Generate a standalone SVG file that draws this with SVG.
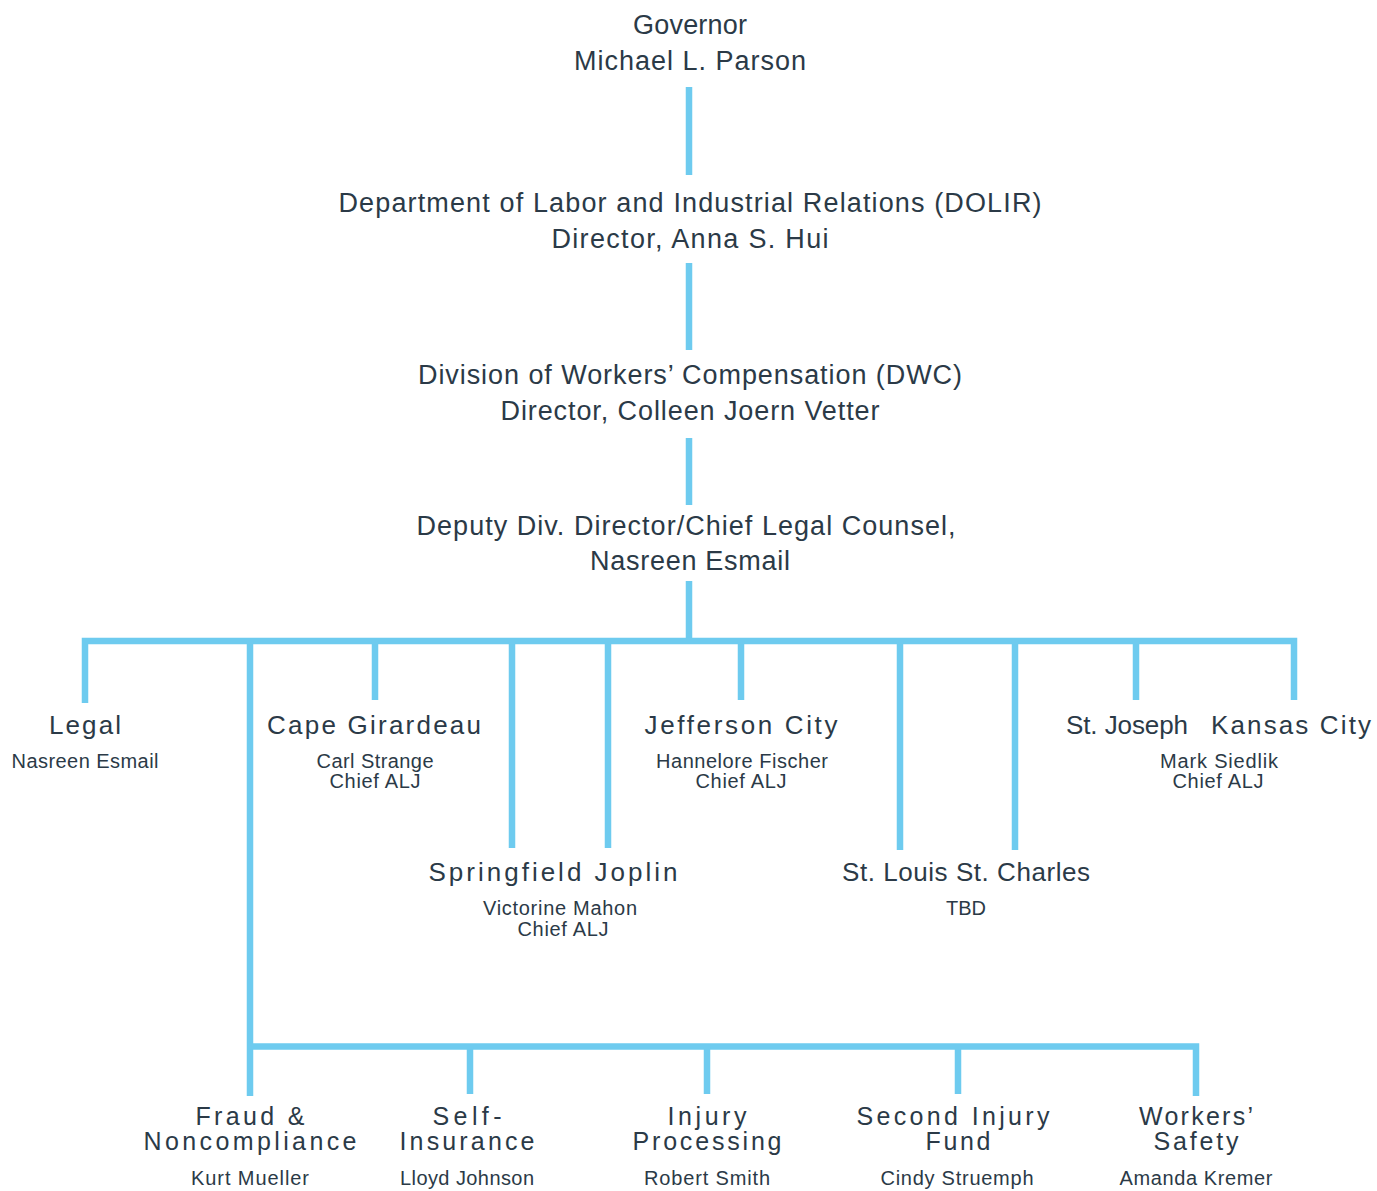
<svg xmlns="http://www.w3.org/2000/svg" width="1377" height="1191" viewBox="0 0 1377 1191">
<style>
.ln{stroke:#6ECBEF;stroke-width:6.5;fill:none;stroke-linecap:butt}
text{font-family:"Liberation Sans",Arial,sans-serif;fill:#2B3A47;text-anchor:middle}
.h{font-size:27px}
.l{font-size:26px}
.b{font-size:25px}
.s{font-size:20px}
</style>
<rect width="1377" height="1191" fill="#fff"/>
<g id="connectors">
<path class="ln" d="M689 87V175M689 263V350M689 438V505M689 581V641"/>
<path class="ln" d="M85 703V641H1294V700"/>
<path class="ln" d="M250 641V1096"/>
<path class="ln" d="M375 641V700M512 641V848M608 641V848M741 641V700M900 641V850M1015 641V850M1136 641V700"/>
<path class="ln" d="M250 1046.5H1196V1096"/>
<path class="ln" d="M470 1046.5V1094M707 1046.5V1094M958 1046.5V1094"/>
</g>
<g id="governor"><text class="h" x="690" y="34" textLength="114">Governor</text><text class="h" x="690" y="70" textLength="232">Michael L. Parson</text></g>
<g id="dolir"><text class="h" x="690" y="212" textLength="703">Department of Labor and Industrial Relations (DOLIR)</text><text class="h" x="690" y="248" textLength="277">Director, Anna S. Hui</text></g>
<g id="dwc"><text class="h" x="690" y="384" textLength="544">Division of Workers’ Compensation (DWC)</text><text class="h" x="690" y="420" textLength="379">Director, Colleen Joern Vetter</text></g>
<g id="deputy"><text class="h" x="686" y="535" textLength="539">Deputy Div. Director/Chief Legal Counsel,</text><text class="h" x="690" y="570" textLength="200">Nasreen Esmail</text></g>
<g id="legal"><text class="l" x="85" y="734" textLength="72">Legal</text><text class="s" x="85" y="768" textLength="147">Nasreen Esmail</text></g>
<g id="cape"><text class="l" x="374" y="734" textLength="214">Cape Girardeau</text><text class="s" x="375" y="768" textLength="117">Carl Strange</text><text class="s" x="375" y="788" textLength="91">Chief ALJ</text></g>
<g id="jefferson"><text class="l" x="741" y="734" textLength="193">Jefferson City</text><text class="s" x="742" y="768" textLength="172">Hannelore Fischer</text><text class="s" x="741" y="788" textLength="91">Chief ALJ</text></g>
<g id="kc"><text class="l" x="1127" y="734" textLength="122">St. Joseph</text><text class="l" x="1291" y="734" textLength="160">Kansas City</text><text class="s" x="1219" y="768" textLength="118">Mark Siedlik</text><text class="s" x="1218" y="788" textLength="91">Chief ALJ</text></g>
<g id="springfield"><text class="l" x="553" y="881" textLength="249">Springfield Joplin</text><text class="s" x="560" y="915" textLength="154">Victorine Mahon</text><text class="s" x="563" y="936" textLength="91">Chief ALJ</text></g>
<g id="stlouis"><text class="l" x="966" y="881" textLength="248">St. Louis St. Charles</text><text class="s" x="966" y="915" textLength="40">TBD</text></g>
<g id="fraud"><text class="b" x="250" y="1125" textLength="109">Fraud &amp;</text><text class="b" x="250" y="1150" textLength="213">Noncompliance</text><text class="s" x="250" y="1185" textLength="118">Kurt Mueller</text></g>
<g id="self"><text class="b" x="467" y="1125" textLength="69">Self-</text><text class="b" x="467" y="1150" textLength="135">Insurance</text><text class="s" x="467" y="1185" textLength="134">Lloyd Johnson</text></g>
<g id="injury"><text class="b" x="707" y="1125" textLength="79">Injury</text><text class="b" x="707" y="1150" textLength="149">Processing</text><text class="s" x="707" y="1185" textLength="126">Robert Smith</text></g>
<g id="sif"><text class="b" x="953" y="1125" textLength="193">Second Injury</text><text class="b" x="958" y="1150" textLength="65">Fund</text><text class="s" x="957" y="1185" textLength="153">Cindy Struemph</text></g>
<g id="safety"><text class="b" x="1196" y="1125" textLength="114">Workers’</text><text class="b" x="1196" y="1150" textLength="85">Safety</text><text class="s" x="1196" y="1185" textLength="153">Amanda Kremer</text></g>
</svg>
